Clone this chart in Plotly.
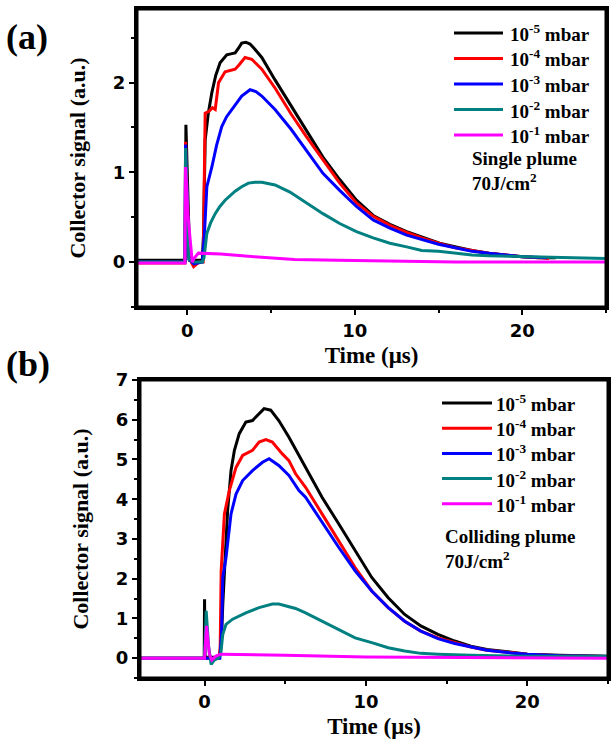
import plotly.graph_objects as go

# ---------------- Data: panel (a) single plume ----------------
a_t_e5 = [-3, -0.12, -0.08, 0.15, 0.9, 0.97, 1.07, 1.25, 1.47, 1.7, 1.96, 2.2, 2.36, 2.6, 2.86, 3.05, 3.25, 3.5,
          3.75, 4.0, 4.45, 5.24, 6.2, 7.1, 8.1, 9.1, 10.1, 11.1, 12.1, 13.1, 14.05, 15.06, 16.05, 17.0, 18.0,
          19.0, 20.0, 21.0, 22.0]
a_v_e5 = [0.02, 0.02, 1.53, 0.02, 0.02, 0.3, 1.36, 1.65, 1.89, 2.08, 2.22, 2.28, 2.31, 2.32, 2.33, 2.38, 2.44, 2.45,
          2.43, 2.38, 2.28, 2.03, 1.74, 1.47, 1.17, 0.92, 0.69, 0.52, 0.42, 0.34, 0.28, 0.21, 0.17, 0.13, 0.10,
          0.08, 0.06, 0.05, 0.05]

a_t_e4 = [-3, -0.14, -0.1, 0.1, 0.38, 0.7, 0.95, 1.02, 1.07, 1.3, 1.5, 1.67, 1.87, 2.26, 2.6, 2.86, 3.1, 3.45, 3.85,
          4.45, 5.24, 6.2, 7.1, 8.1, 9.1, 10.1, 11.1, 12.1, 13.1, 14.0, 15.0, 16.0, 17.0, 18.0, 19.0, 20.0, 21.0, 21.6]
a_v_e4 = [-0.01, -0.01, 1.34, 0.05, -0.05, 0.0, 0.0, 0.8, 1.66, 1.68, 1.72, 1.70, 2.0, 2.12, 2.14, 2.15, 2.2, 2.28,
          2.26, 2.15, 1.94, 1.65, 1.40, 1.14, 0.88, 0.66, 0.51, 0.41, 0.33, 0.27, 0.21, 0.16, 0.13, 0.10, 0.08,
          0.06, 0.05, 0.04]

a_t_e3 = [-3, -0.14, -0.1, 0.1, 0.4, 0.9, 1.02, 1.17, 1.47, 1.75, 2.06, 2.35, 2.66, 3.0, 3.25, 3.75, 4.1, 4.45, 5.24,
          6.2, 7.1, 8.1, 9.1, 10.1, 11.1, 12.1, 13.1, 14.0, 15.0, 16.0, 17.0, 18.0, 19.0, 20.0, 21.5]
a_v_e3 = [0.0, 0.0, 1.31, 0.03, -0.02, 0.0, 0.3, 0.84, 1.06, 1.30, 1.51, 1.62, 1.70, 1.78, 1.85, 1.92, 1.90, 1.85,
          1.70, 1.48, 1.25, 0.99, 0.80, 0.62, 0.47, 0.38, 0.30, 0.25, 0.20, 0.16, 0.12, 0.10, 0.08, 0.06, 0.05]

a_t_e2 = [-3, -0.14, -0.1, 0.1, 0.4, 0.9, 1.0, 1.17, 1.4, 1.67, 1.95, 2.26, 2.86, 3.25, 3.65, 4.05, 4.45, 5.24, 6.13,
          7.1, 8.1, 9.1, 10.1, 11.1, 12.1, 13.1, 14.0, 15.0, 16.0, 17.0, 18.0, 20.0, 22.0, 25.0]
a_v_e2 = [0.0, 0.0, 1.27, 0.03, 0.0, 0.0, 0.05, 0.32, 0.44, 0.54, 0.62, 0.69, 0.79, 0.84, 0.88, 0.89, 0.89, 0.86,
          0.78, 0.66, 0.54, 0.43, 0.34, 0.27, 0.21, 0.17, 0.13, 0.12, 0.10, 0.08, 0.07, 0.06, 0.05, 0.04]

a_t_e1 = [-3, -0.14, -0.1, 0.05, 0.3, 0.4, 0.67, 2.0, 4.0, 6.4, 9.0, 12.0, 16.0, 20.0, 25.0]
a_v_e1 = [-0.01, -0.01, 1.06, 0.5, 0.0, 0.04, 0.1, 0.09, 0.06, 0.03, 0.02, 0.01, 0.0, 0.0, 0.0]

# ---------------- Data: panel (b) colliding plume ----------------
b_t_e5 = [-4, -0.02, 0.0, 0.03, 0.92, 1.03, 1.13, 1.28, 1.43, 1.64, 1.85, 2.15, 2.56, 2.97, 3.28, 3.69, 4.1, 4.6,
          5.23, 6.26, 7.28, 8.31, 9.33, 10.36, 11.38, 12.4, 13.4, 14.46, 15.5, 16.5, 17.5, 19.0, 20.0, 22.0, 25.0]
b_v_e5 = [0.0, 0.0, 1.48, 0.02, 0.02, 0.3, 1.36, 2.6, 3.71, 4.72, 5.23, 5.65, 5.94, 5.98, 6.11, 6.28, 6.24, 5.98,
          5.56, 4.81, 4.05, 3.38, 2.70, 2.03, 1.52, 1.10, 0.81, 0.60, 0.43, 0.30, 0.22, 0.14, 0.10, 0.07, 0.05]

b_t_e4 = [-4, 0.9, 0.97, 1.03, 1.23, 1.54, 1.95, 2.36, 2.97, 3.38, 3.8, 4.2, 4.82, 5.23, 5.64, 6.26, 7.28, 8.31,
          9.33, 10.36, 11.38, 12.4, 13.4, 14.46, 15.5, 16.5, 17.5, 19.0, 20.0, 22.0, 25.0]
b_v_e4 = [0.0, 0.0, 0.3, 2.2, 3.63, 4.22, 4.8, 5.1, 5.23, 5.44, 5.5, 5.44, 5.14, 4.97, 4.64, 4.3, 3.63, 2.95,
          2.28, 1.69, 1.27, 0.93, 0.68, 0.51, 0.39, 0.28, 0.20, 0.13, 0.10, 0.06, 0.04]

b_t_e3 = [-4, 0.95, 1.05, 1.13, 1.33, 1.64, 1.95, 2.36, 2.97, 3.59, 4.0, 4.6, 5.23, 5.85, 6.26, 7.28, 8.31, 9.33,
          10.36, 11.38, 12.4, 13.4, 14.46, 15.5, 16.5, 17.5, 19.0, 20.0, 22.0, 25.0]
b_v_e3 = [0.0, 0.0, 0.6, 2.03, 2.53, 3.63, 4.13, 4.47, 4.72, 4.93, 5.02, 4.85, 4.6, 4.22, 4.05, 3.42, 2.79, 2.2,
          1.69, 1.27, 0.93, 0.68, 0.49, 0.37, 0.28, 0.20, 0.13, 0.10, 0.06, 0.04]

b_t_e2 = [-4, 0.0, 0.1, 0.25, 0.41, 0.6, 0.85, 1.0, 1.13, 1.33, 1.74, 2.56, 3.38, 4.2, 4.6, 5.03, 5.64, 6.26, 7.28,
          8.31, 9.33, 10.36, 11.38, 12.4, 13.4, 14.46, 15.5, 16.5, 18.0, 20.0, 25.0]
b_v_e2 = [0.0, 0.0, 1.19, 0.3, -0.16, -0.05, 0.0, 0.1, 0.6, 0.85, 0.98, 1.14, 1.27, 1.36, 1.36, 1.31, 1.25, 1.14,
          0.93, 0.72, 0.51, 0.39, 0.26, 0.18, 0.12, 0.10, 0.08, 0.07, 0.06, 0.05, 0.05]

b_t_e1 = [-4, 0.0, 0.12, 0.3, 0.45, 0.7, 1.0, 3.0, 5.0, 10.0, 15.0, 20.0, 25.0]
b_v_e1 = [0.0, 0.0, 0.81, 0.1, -0.05, 0.05, 0.1, 0.09, 0.07, 0.03, 0.02, 0.01, 0.0]

labels = ["10<sup>-5</sup> mbar", "10<sup>-4</sup> mbar", "10<sup>-3</sup> mbar",
          "10<sup>-2</sup> mbar", "10<sup>-1</sup> mbar"]
colors = ["#000000", "#FF0000", "#0000FF", "#008080", "#FF00FF"]

panel_a = [(a_t_e5, a_v_e5), (a_t_e4, a_v_e4), (a_t_e3, a_v_e3), (a_t_e2, a_v_e2), (a_t_e1, a_v_e1)]
panel_b = [(b_t_e5, b_v_e5), (b_t_e4, b_v_e4), (b_t_e3, b_v_e3), (b_t_e2, b_v_e2), (b_t_e1, b_v_e1)]

SERIF = "Liberation Serif"
SANS = "DejaVu Sans"
W, H = 611, 744

# panel boxes in pixels: (left, right, top, bottom)
BOX_A = (137, 606, 9, 307)
BOX_B = (140, 608, 380, 678)
XR_A, YR_A = [-3, 25], [-0.5, 2.82]
XR_B, YR_B = [-4, 25], [-0.5, 7]


def px_x(p):
    return p / W


def px_y(p):
    return 1 - p / H


fig = go.Figure()
for (t, v), lab, c in zip(panel_a, labels, colors):
    fig.add_trace(go.Scatter(x=t, y=v, mode="lines", name=lab, line=dict(color=c, width=3),
                             xaxis="x", yaxis="y", showlegend=False))
for (t, v), lab, c in zip(panel_b, labels, colors):
    fig.add_trace(go.Scatter(x=t, y=v, mode="lines", name=lab, line=dict(color=c, width=3),
                             xaxis="x2", yaxis="y2", showlegend=False))

axis_common = dict(showline=True, linewidth=3, linecolor="black", mirror=True,
                   ticks="outside", ticklen=5, tickwidth=2, tickcolor="black",
                   showgrid=False, zeroline=False, automargin=False,
                   tickfont=dict(family=SANS, size=18, color="black"))
minor_x = dict(dtick=5, ticklen=3, tickwidth=2, tickcolor="black", ticks="outside")
minor_y = dict(dtick=0.5, ticklen=3, tickwidth=2, tickcolor="black", ticks="outside")
xtitle_font = dict(family=SERIF, size=23, color="black")
ytitle_font = dict(family=SERIF, size=22, color="black")
# plain frame axes for the top and right edges
frame_axis = dict(showline=True, linewidth=3, linecolor="black", ticks="", showticklabels=False,
                  showgrid=False, zeroline=False, automargin=False, fixedrange=True)

fig.update_layout(
    template="none",
    width=W, height=H, margin=dict(l=0, r=0, t=0, b=0, pad=0),
    paper_bgcolor="white", plot_bgcolor="white", showlegend=False,
    font=dict(family=SERIF, color="black"),
    xaxis=dict(axis_common, domain=[px_x(BOX_A[0]), px_x(BOX_A[1])], range=XR_A, dtick=10, tick0=0,
               tickprefix="<b>", ticksuffix="</b>", minor=minor_x, anchor="y",
               title=dict(text="<b>Time (μs)</b>", font=xtitle_font, standoff=8)),
    yaxis=dict(axis_common, domain=[px_y(BOX_A[3]), px_y(BOX_A[2])], range=YR_A, dtick=1, tick0=0,
               tickprefix="<b>", ticksuffix="</b>", minor=minor_y, anchor="x",
               title=dict(text="<b>Collector signal (a.u.)</b>", font=ytitle_font, standoff=22)),
    xaxis2=dict(axis_common, domain=[px_x(BOX_B[0]), px_x(BOX_B[1])], range=XR_B, dtick=10, tick0=0,
                tickprefix="<b>", ticksuffix="</b>", minor=minor_x, anchor="y2",
                title=dict(text="<b>Time (μs)</b>", font=xtitle_font, standoff=8)),
    yaxis2=dict(axis_common, domain=[px_y(BOX_B[3]), px_y(BOX_B[2])], range=YR_B, dtick=1, tick0=0,
                tickprefix="<b>", ticksuffix="</b>", minor=minor_y, anchor="x2",
                title=dict(text="<b>Collector signal (a.u.)</b>", font=ytitle_font, standoff=22)),
    xaxis3=dict(frame_axis, overlaying="x", side="top", anchor="y", range=XR_A),
    yaxis3=dict(frame_axis, overlaying="y", side="right", anchor="x", range=YR_A),
    xaxis4=dict(frame_axis, overlaying="x2", side="top", anchor="y2", range=XR_B),
    yaxis4=dict(frame_axis, overlaying="y2", side="right", anchor="x2", range=YR_B),
)

# frame around each panel (paper coordinates), drawn in addition to the axis lines
for (l, r, t, b) in (BOX_A, BOX_B):
    fig.add_shape(type="rect", xref="paper", yref="paper", x0=px_x(l), x1=px_x(r), y0=px_y(b), y1=px_y(t),
                  line=dict(color="black", width=3))

# manual legends (line sample + label), positioned in pixels
leg_font = dict(family=SERIF, size=19, color="black")
legend_specs = [
    # (line x0, line x1, text x, first row y, row step)
    (454, 503, 508, 33, 25.5),
    (442, 492, 494, 403, 25.2),
]
for (lx0, lx1, tx, ry0, step) in legend_specs:
    for i, (lab, c) in enumerate(zip(labels, colors)):
        yy = px_y(ry0 + i * step)
        fig.add_shape(type="line", xref="paper", yref="paper", x0=px_x(lx0), x1=px_x(lx1), y0=yy, y1=yy,
                      line=dict(color=c, width=3))
        fig.add_annotation(xref="paper", yref="paper", x=px_x(tx), y=yy, xanchor="left", yanchor="middle",
                           text="<b>" + lab + "</b>", showarrow=False, font=leg_font)

ann_font = dict(family=SERIF, size=19, color="black")
fig.add_annotation(xref="paper", yref="paper", x=px_x(470), y=px_y(171), xanchor="left", yanchor="middle",
                   text="<b>Single plume<br>70J/cm<sup>2</sup></b>", showarrow=False, align="left", font=ann_font)
fig.add_annotation(xref="paper", yref="paper", x=px_x(443), y=px_y(549), xanchor="left", yanchor="middle",
                   text="<b>Colliding plume<br>70J/cm<sup>2</sup></b>", showarrow=False, align="left",
                   font=ann_font)

panel_font = dict(family=SERIF, size=36, color="black")
fig.add_annotation(xref="paper", yref="paper", x=px_x(4), y=px_y(37), xanchor="left", yanchor="middle",
                   text="<b>(a)</b>", showarrow=False, font=panel_font)
fig.add_annotation(xref="paper", yref="paper", x=px_x(4), y=px_y(364), xanchor="left", yanchor="middle",
                   text="<b>(b)</b>", showarrow=False, font=panel_font)

fig.write_html("out.html")
